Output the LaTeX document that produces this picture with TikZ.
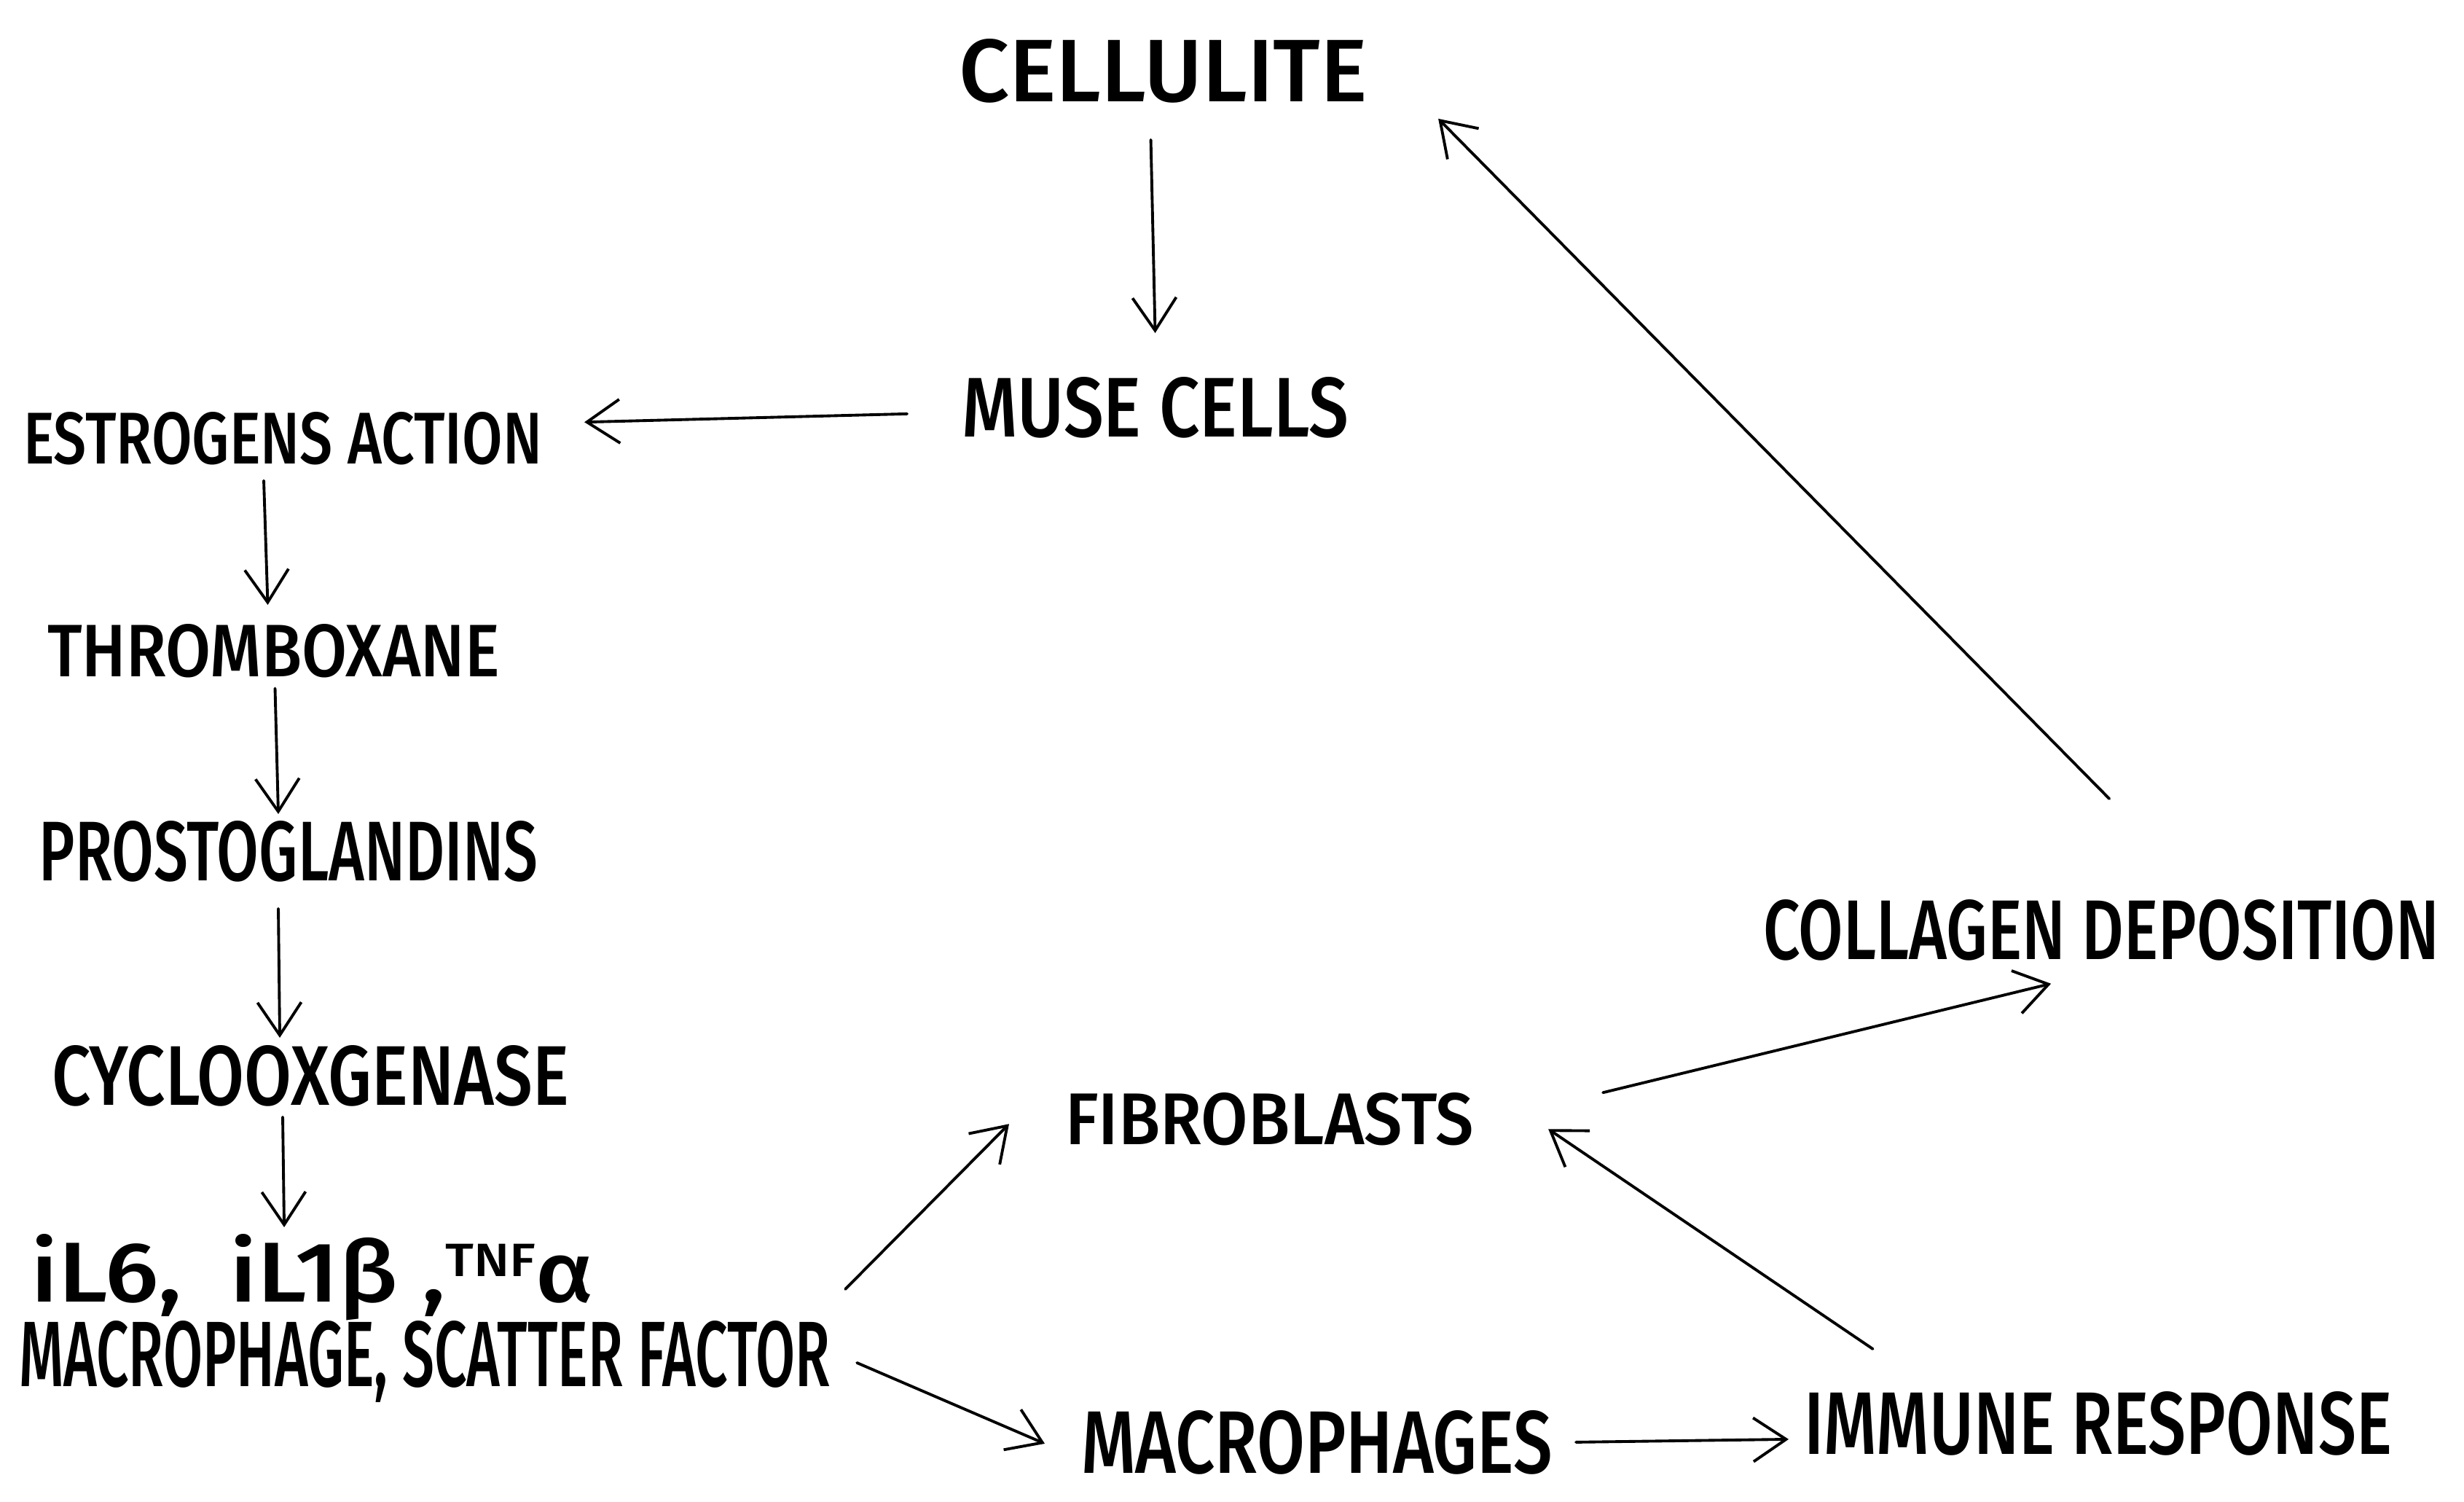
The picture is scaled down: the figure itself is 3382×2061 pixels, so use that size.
\documentclass[tikz,border=0pt]{standalone}
\usepackage{fontspec}
\setmainfont{Fira Sans Medium}
\usetikzlibrary{arrows.meta,calc}
\newlength\pxlen
\setlength\pxlen{0.01cm}
\newcommand\lbl[3]{\resizebox{#1\pxlen}{#2\pxlen}{#3}}
\begin{document}
\begin{tikzpicture}[x=0.01cm,y=-0.01cm,
  lab/.style={anchor=base west,inner sep=0pt,outer sep=0pt,text=black},
  arr/.style={draw=black,line width=1.1pt,line cap=round,
    -{Straight Barb[length=0.45cm,width=0.6cm,line width=1.1pt]}}]
\fill[white] (0,0) rectangle (3382,2061);
\useasboundingbox (0,0) rectangle (3382,2061);

\node[lab] (cel)  at (1316,140)  {\lbl{561}{86}{CELLULITE}};
\node[lab] (muse) at (1320,600)  {\lbl{531}{82}{MUSE CELLS}};
\node[lab] (estr) at (32,636)    {\lbl{712}{71}{ESTROGENS ACTION}};
\node[lab] (thr)  at (65,928)    {\lbl{621}{72}{THROMBOXANE}};
\node[lab] (pro)  at (54,1208)   {\lbl{684}{82}{PROSTOGLANDINS}};
\node[lab] (cyc)  at (71,1516)   {\lbl{710}{82}{CYCLOOXGENASE}};
\node[lab] (il)   at (43,1786)   {\lbl{772}{93}{iL6,\ \ iL1β\ ,\raisebox{0.3em}{\scalebox{0.55}{TNF}}α}};
\node[lab] (fac)  at (26,1902)   {\lbl{1113}{90}{MACROPHAGE, SCATTER FACTOR}};
\node[lab] (fib)  at (1462,1570) {\lbl{561}{71}{FIBROBLASTS}};
\node[lab] (macs) at (1484,2021) {\lbl{647}{86}{MACROPHAGES}};
\node[lab] (imm)  at (2476,1995) {\lbl{807}{86}{IMMUNE RESPONSE}};
\node[lab] (col)  at (2420,1316) {\lbl{928}{82}{COLLAGEN DEPOSITION}};

\draw[arr] ($(cel.south)+(-17,50)$)   -- ($(muse.north)+(0,-61)$);
\draw[arr] ($(muse.west)+(-75,8)$)    -- ($(estr.east)+(58,-22)$);
\draw[arr] ($(estr.south)+(-26,22)$)  -- ($(thr.north)+(-8,-26)$);
\draw[arr] ($(thr.south)+(2,15)$)     -- ($(pro.north)+(-14,-9)$);
\draw[arr] ($(pro.south)+(-14,37)$)   -- ($(cyc.north)+(-42,-10)$);
\draw[arr] ($(cyc.south)+(-38,15)$)   -- ($(il.north)+(-39,-9)$);
\draw[arr] ($(fac.east)+(21,-99)$)    -- ($(fib.west)+(-77,7)$);
\draw[arr] ($(fac.east)+(37,2)$)      -- ($(macs.west)+(-50,2)$);
\draw[arr] ($(macs.east)+(32,0)$)     -- ($(imm.west)+(-21,22)$);
\draw[arr] ($(imm.north)+(-309,-58)$) -- ($(fib.east)+(102,14)$);
\draw[arr] ($(fib.east)+(177,-36)$)   -- ($(col.south)+(-69,32)$);
\draw[arr] ($(col.north)+(11,-138)$)  -- ($(cel.east)+(97,65)$);
\end{tikzpicture}
\end{document}
